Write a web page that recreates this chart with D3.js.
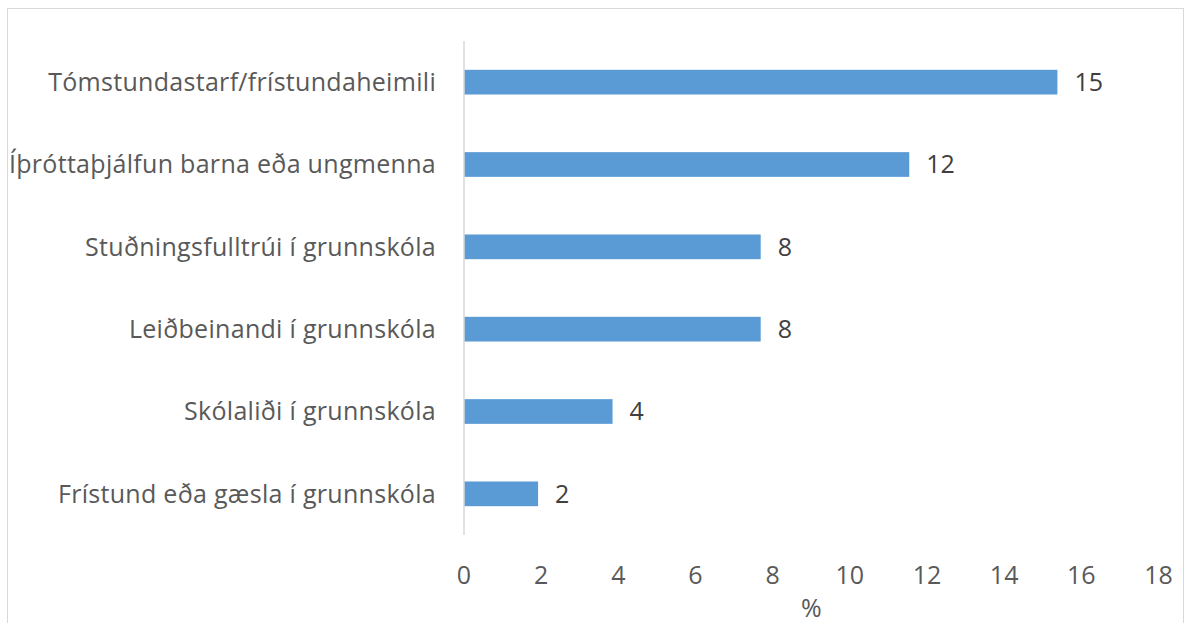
<!DOCTYPE html>
<html lang="is">
<head>
    <meta charset="utf-8">
    <title>Störf</title>
    <script src="https://cdn.jsdelivr.net/npm/d3@7"></script>
    <style>
        body { margin: 0; background: #fff; }
        svg text { font-family: "Open Sans", Lato, sans-serif; }
    </style>
</head>
<body>
<script>
    // categories, top to bottom
    var categories = [
        "Tómstundastarf/frístundaheimili",
        "Íþróttaþjálfun barna eða ungmenna",
        "Stuðningsfulltrúi í grunnskóla",
        "Leiðbeinandi í grunnskóla",
        "Skólaliði í grunnskóla",
        "Frístund eða gæsla í grunnskóla"
    ];
    // percent values
    var values = [15.38, 11.54, 7.69, 7.69, 3.85, 1.92];
    var xTicks = [0, 2, 4, 6, 8, 10, 12, 14, 16, 18];
    var axisTitle = "%";

    var w = 1184, h = 623;
    // plot area (note: "top" is reserved on window)
    var plotLeft = 464, plotRight = 1158.5, plotTop = 41, plotBottom = 535;

    var svg = d3.select("body").append("svg")
        .attr("width", w).attr("height", h);

    // chart frame
    svg.append("rect")
        .attr("x", 7.5).attr("y", 8.5)
        .attr("width", w - 8).attr("height", h)
        .attr("fill", "none").attr("stroke", "#d9d9d9");

    var x = d3.scaleLinear().domain([0, 18]).range([plotLeft, plotRight]);
    var y = d3.scaleBand().domain(categories).range([plotTop, plotBottom])
        .paddingInner(0.7).paddingOuter(0.35);

    // bars
    svg.selectAll("rect.bar")
        .data(values)
        .enter()
        .append("rect")
        .attr("class", "bar")
        .attr("x", x(0))
        .attr("y", (d, i) => y(categories[i]))
        .attr("width", d => x(d) - x(0))
        .attr("height", y.bandwidth())
        .attr("fill", "#5b9bd5");

    // vertical axis line
    svg.append("line")
        .attr("x1", x(0)).attr("x2", x(0))
        .attr("y1", plotTop).attr("y2", plotBottom)
        .attr("stroke", "#d9d9d9").attr("stroke-width", 1.5);

    // category labels
    svg.selectAll("text.cat")
        .data(categories)
        .enter()
        .append("text")
        .attr("class", "cat")
        .attr("x", x(0) - 28)
        .attr("y", d => y(d) + y.bandwidth() / 2)
        .attr("dy", "0.35em")
        .attr("text-anchor", "end")
        .attr("font-size", 25)
        .attr("letter-spacing", 0.3)
        .attr("fill", "#595959")
        .text(d => d);

    // value labels
    var fmt = d3.format(".0f");
    svg.selectAll("text.val")
        .data(values)
        .enter()
        .append("text")
        .attr("class", "val")
        .attr("x", d => x(d) + 17)
        .attr("y", (d, i) => y(categories[i]) + y.bandwidth() / 2)
        .attr("dy", "0.35em")
        .attr("font-size", 25)
        .attr("fill", "#404040")
        .text(d => fmt(d));

    // x tick labels
    svg.selectAll("text.tick")
        .data(xTicks)
        .enter()
        .append("text")
        .attr("class", "tick")
        .attr("x", d => x(d))
        .attr("y", 575)
        .attr("dy", "0.35em")
        .attr("text-anchor", "middle")
        .attr("font-size", 25)
        .attr("fill", "#595959")
        .text(d => d);

    svg.append("text")
        .attr("x", (plotLeft + plotRight) / 2)
        .attr("y", 608)
        .attr("dy", "0.35em")
        .attr("text-anchor", "middle")
        .attr("font-size", 25)
        .attr("fill", "#595959")
        .text(axisTitle);
</script>
</body>
</html>
